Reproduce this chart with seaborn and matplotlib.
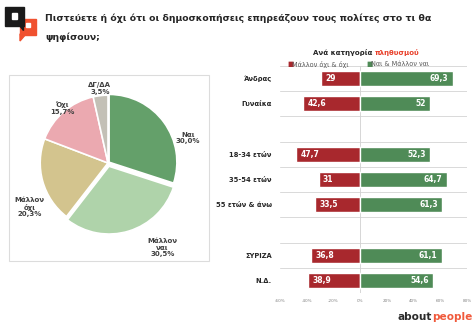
import matplotlib
matplotlib.use("Agg")
import matplotlib.pyplot as plt
from matplotlib.patches import Rectangle, Polygon
import seaborn as sns
import pandas as pd
import numpy as np

# ---------------- data ----------------
pie_labels = ["Ναι", "Μάλλον\nναι", "Μάλλον\nόχι", "Όχι", "ΔΓ/ΔΑ"]
pie_values = [30.0, 30.5, 20.3, 15.7, 3.5]
pie_colors = ["#64a06a", "#afd3aa", "#d3c48e", "#eba9b0", "#c3c0b6"]

categories = ["Άνδρας", "Γυναίκα", " ", "18-34 ετών", "35-54 ετών", "55 ετών & άνω", "  ", "ΣΥΡΙΖΑ", "Ν.Δ."]
no_values = [29, 42.6, np.nan, 47.7, 31, 33.5, np.nan, 36.8, 38.9]
yes_values = [69.3, 52, np.nan, 52.3, 64.7, 61.3, np.nan, 61.1, 54.6]
xticks = [-60, -40, -20, 0, 20, 40, 60, 80]
series_names = ["Μάλλον όχι & όχι", "Ναι & Μάλλον ναι"]

RED = "#a8282d"
GREEN = "#4f8b57"

sns.set_theme(style="white")
plt.rcParams["font.family"] = ["DejaVu Sans"]

W, H = 477, 330
fig = plt.figure(figsize=(W / 100, H / 100), dpi=100)
fig.patch.set_facecolor("white")

def fx(px):
    return px / W

def fy(py):
    return 1 - py / H

# ---------------- logo ----------------
logo = fig.add_axes([0, 0, 1, 1], zorder=-1)
logo.set_xlim(0, W)
logo.set_ylim(H, 0)
logo.axis("off")
logo.add_patch(Rectangle((20, 19), 16, 16, color="#f0512f"))
logo.add_patch(Polygon([(20, 34), (26, 34), (20, 41)], closed=True, color="#f0512f"))
logo.add_patch(Rectangle((26, 23), 4, 4, color="white"))
logo.add_patch(Rectangle((5, 7), 19, 19, color="#1a1a1a"))
logo.add_patch(Polygon([(19, 25), (23, 25), (23, 30)], closed=True, color="#1a1a1a"))
logo.add_patch(Rectangle((12, 13), 5.5, 5.5, color="white"))
# pie frame
logo.add_patch(Rectangle((9, 75), 200, 186, fill=False, ec="#dcdcdc", lw=0.8))

# ---------------- title ----------------
fig.text(fx(45), fy(18), "Πιστεύετε ή όχι ότι οι δημοσκοπήσεις επηρεάζουν τους πολίτες στο τι θα",
         fontsize=6.7, fontweight="bold", color="#262626", va="center", ha="left")
fig.text(fx(45), fy(37), "ψηφίσουν;", fontsize=6.7, fontweight="bold", color="#262626",
         va="center", ha="left")

# ---------------- pie ----------------
pax = fig.add_axes([fx(108 - 80), fy(163 + 80), fx(160), 160 / H])
pax.pie(pie_values, colors=pie_colors, startangle=90, counterclock=False,
        explode=[0.02, 0.05, 0, 0, 0],
        wedgeprops=dict(edgecolor="white", linewidth=1.2))
pax.set_xlim(-1.18, 1.18)
pax.set_ylim(-1.18, 1.18)
pax.set_aspect("auto")
pax.axis("off")
label_pos = [(1.18, 0.37), (0.80, -1.25), (-1.16, -0.65), (-0.68, 0.81), (-0.12, 1.10)]
for lab, v, (lx, ly) in zip(pie_labels, pie_values, label_pos):
    txt = f"{lab}\n" + f"{v:.1f}%".replace(".", ",")
    pax.text(lx, ly, txt, ha="center", va="center", fontsize=5.0, fontweight="bold",
             color="#404040", linespacing=1.1, clip_on=False)

# ---------------- bars ----------------
bax = fig.add_axes([fx(280), fy(293), fx(187), (293 - 66) / H])
df_no = pd.DataFrame({"cat": categories, "val": [-v for v in no_values]})
df_yes = pd.DataFrame({"cat": categories, "val": yes_values})
sns.barplot(data=df_no, x="val", y="cat", order=categories, color=RED, saturation=1,
            width=0.6, ax=bax, orient="h")
sns.barplot(data=df_yes, x="val", y="cat", order=categories, color=GREEN, saturation=1,
            width=0.6, ax=bax, orient="h")
bax.set_xlim(-60, 80)
bax.set_ylim(len(categories) - 0.5, -0.5)
bax.set_xlabel("")
bax.set_ylabel("")
bax.set_xticks(xticks)
bax.set_xticklabels([f"{t}%" for t in xticks], fontsize=3, color="#808080")
bax.tick_params(axis="x", length=0, pad=4)
bax.tick_params(axis="y", length=0, pad=6)
for lab in bax.get_yticklabels():
    lab.set_fontsize(4.9)
    lab.set_fontweight("bold")
    lab.set_color("#262626")
for s in bax.spines.values():
    s.set_visible(False)
for yb in np.arange(-0.5, len(categories), 1.0):
    bax.axhline(yb, color="#d9d9d9", lw=0.7, zorder=0)
bax.axvline(0, color="#d0d0d0", lw=0.6, zorder=0)

for i, (n, y) in enumerate(zip(no_values, yes_values)):
    if np.isnan(n):
        continue
    bax.annotate(f"{n:g}".replace(".", ","), (-n, i), xytext=(3, 0), textcoords="offset points",
                 ha="left", va="center", fontsize=5.5, fontweight="bold", color="white")
    bax.annotate(f"{y:g}".replace(".", ","), (y, i), xytext=(-3, 0), textcoords="offset points",
                 ha="right", va="center", fontsize=5.5, fontweight="bold", color="white")

# legend
fig.text(fx(287), fy(64), "■", color=RED, fontsize=4.8, va="center", ha="left")
fig.text(fx(292), fy(64), series_names[0], color="#595959", fontsize=4.7, va="center", ha="left")
fig.text(fx(366), fy(64), "■", color=GREEN, fontsize=4.8, va="center", ha="left")
fig.text(fx(371), fy(64), series_names[1], color="#595959", fontsize=4.7, va="center", ha="left")

# subtitle
fig.text(fx(375), fy(53), "Ανά κατηγορία ", color="#262626", fontsize=5, fontweight="bold",
         ha="right", va="center")
fig.text(fx(375), fy(53), "πληθυσμού", color="#e8402a", fontsize=5, fontweight="bold",
         ha="left", va="center")

# brand
fig.text(fx(432), fy(317), "about", color="#2b2b2b", fontsize=7.6, fontweight="bold",
         ha="right", va="center")
fig.text(fx(432), fy(317), "people", color="#f05a3c", fontsize=7.6, fontweight="bold",
         ha="left", va="center")

fig.savefig("out.png", dpi=100, facecolor="white")
